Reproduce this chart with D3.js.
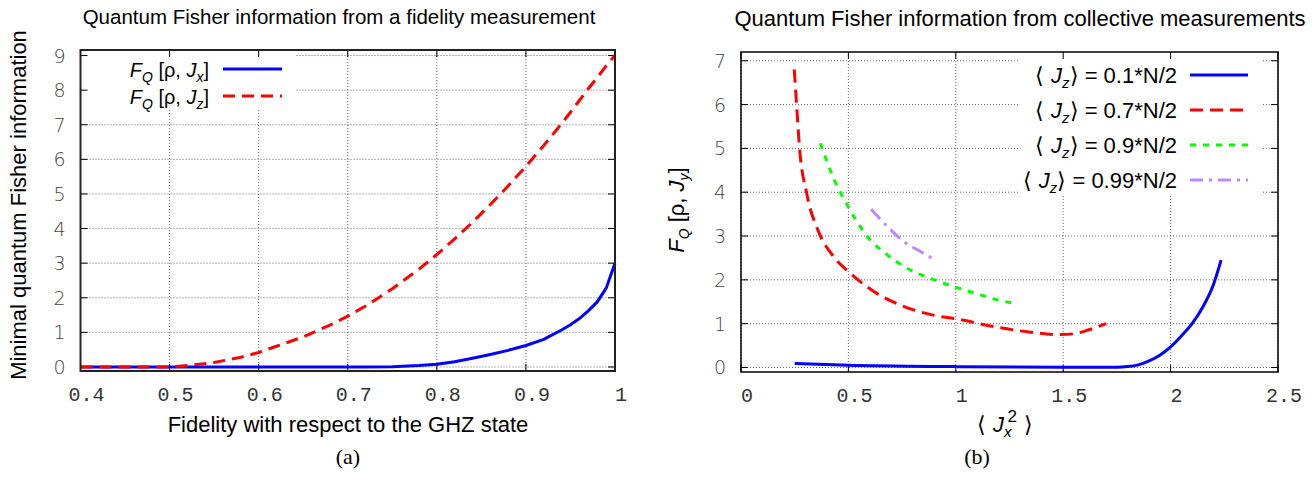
<!DOCTYPE html>
<html>
<head>
<meta charset="utf-8">
<script src="https://cdn.jsdelivr.net/npm/d3@7"></script>
<style>
  body { margin: 0; background: #fff; }
  svg text { font-family: "Liberation Sans", Arial, sans-serif; fill: #000; }
</style>
</head>
<body>
<svg id="chart" width="1316" height="490"></svg>
<script>
// ---- panel (a): fidelity measurement ----
const fidelity = [0.4, 0.45, 0.5, 0.52, 0.55, 0.58, 0.6, 0.62, 0.65, 0.68, 0.7, 0.72, 0.75, 0.78, 0.8, 0.82, 0.84, 0.86, 0.88, 0.9, 0.92, 0.94, 0.95, 0.96, 0.97, 0.98, 0.99, 1.0];
const fqJx = [0, 0, 0, 0, 0, 0, 0, 0, 0, 0, 0, 0.002, 0.005, 0.04, 0.08, 0.15, 0.25, 0.36, 0.48, 0.62, 0.8, 1.07, 1.22, 1.4, 1.62, 1.88, 2.27, 3.0];
const fqJz = [0, 0, 0, 0.04, 0.13, 0.28, 0.42, 0.6, 0.87, 1.21, 1.47, 1.76, 2.26, 2.83, 3.25, 3.7, 4.18, 4.69, 5.23, 5.8, 6.4, 7.03, 7.36, 7.7, 8.04, 8.36, 8.7, 9.0];
const ticksA_x = [0.4, 0.5, 0.6, 0.7, 0.8, 0.9, 1];
const ticksA_y = [0, 1, 2, 3, 4, 5, 6, 7, 8, 9];

// ---- panel (b): collective measurements ----
const jx2_01 = [0.25, 0.5, 1.0, 1.5, 1.75, 1.8, 1.85, 1.9, 1.95, 2.0, 2.05, 2.1, 2.15, 2.2, 2.235];
const fq_01 = [0.09, 0.05, 0.02, 0.005, 0.005, 0.02, 0.06, 0.15, 0.28, 0.47, 0.72, 1.0, 1.38, 1.9, 2.45];
const jx2_07 = [0.248, 0.26, 0.272, 0.306, 0.361, 0.431, 0.5, 0.62, 0.745, 0.9, 1.0, 1.18, 1.34, 1.48, 1.55, 1.62, 1.7];
const fq_07 = [6.8, 5.9, 5.04, 3.97, 3.1, 2.53, 2.19, 1.73, 1.42, 1.19, 1.11, 0.93, 0.81, 0.75, 0.77, 0.86, 1.0];
const jx2_09 = [0.369, 0.431, 0.498, 0.588, 0.681, 0.775, 0.9, 1.0, 1.1, 1.18, 1.277];
const fq_09 = [5.12, 4.32, 3.68, 2.99, 2.57, 2.26, 2.0, 1.83, 1.68, 1.56, 1.46];
const jx2_099 = [0.606, 0.681, 0.759, 0.838, 0.908];
const fq_099 = [3.61, 3.22, 2.87, 2.64, 2.44];
const ticksB_x = [0, 0.5, 1, 1.5, 2, 2.5];
const ticksB_y = [0, 1, 2, 3, 4, 5, 6, 7];

const svg = d3.select('#chart');

const zip = (xs, ys) => xs.map((v, i) => [v, ys[i]]);

function drawPanel(p) {
    const g = svg.append('g');
    const x = d3.scaleLinear().domain(p.xDomain).range([p.left, p.right]);
    const y = d3.scaleLinear().domain(p.yDomain).range([p.bottom, p.top]);

    // dotted grid
    g.append('g').selectAll('line').data(p.xTicks).enter().append('line')
        .attr('x1', d => x(d)).attr('x2', d => x(d))
        .attr('y1', p.top).attr('y2', p.bottom)
        .attr('stroke', '#666').attr('stroke-width', 1).attr('stroke-dasharray', '1,2');
    g.append('g').selectAll('line').data(p.yTicks).enter().append('line')
        .attr('x1', p.left).attr('x2', p.right)
        .attr('y1', d => y(d)).attr('y2', d => y(d))
        .attr('stroke', '#666').attr('stroke-width', 1).attr('stroke-dasharray', '1,2');

    // opaque key box hides the grid
    g.append('rect')
        .attr('x', p.key.x0).attr('y', p.top + 1)
        .attr('width', p.key.x1 - p.key.x0).attr('height', p.key.y1 - p.top - 1)
        .attr('fill', '#fff');

    // inward ticks on all four sides
    const tl = 7;
    const ticks = g.append('g').attr('stroke', '#000').attr('stroke-width', 1);
    p.xTicks.forEach(t => {
        ticks.append('line').attr('x1', x(t)).attr('x2', x(t)).attr('y1', p.bottom).attr('y2', p.bottom - tl);
        ticks.append('line').attr('x1', x(t)).attr('x2', x(t)).attr('y1', p.top).attr('y2', p.top + tl);
    });
    p.yTicks.forEach(t => {
        ticks.append('line').attr('x1', p.left).attr('x2', p.left + tl).attr('y1', y(t)).attr('y2', y(t));
        ticks.append('line').attr('x1', p.right).attr('x2', p.right - tl).attr('y1', y(t)).attr('y2', y(t));
    });

    // tick labels
    g.append('g').selectAll('text').data(p.xTicks).enter().append('text')
        .attr('x', d => x(d) + 6).attr('y', p.bottom + 30)
        .attr('text-anchor', 'middle')
        .style('font-family', '"Liberation Mono", "DejaVu Sans Mono", monospace')
        .style('font-size', '20px').style('fill', '#333')
        .text(d => d);
    g.append('g').selectAll('text').data(p.yTicks).enter().append('text')
        .attr('x', p.left - 15).attr('y', d => y(d) + 7)
        .attr('text-anchor', 'end')
        .style('font-family', '"DejaVu Sans", sans-serif').style('font-weight', 200)
        .style('font-size', '19px').style('fill', '#444')
        .text(d => d);

    // curves
    const line = d3.line().x(d => x(d[0])).y(d => y(d[1])).curve(p.curve);
    p.series.forEach(s => {
        g.append('path').datum(s.points)
            .attr('d', line)
            .attr('fill', 'none').attr('stroke', s.color).attr('stroke-width', 3)
            .attr('stroke-dasharray', s.dash);
    });

    // frame
    g.append('rect')
        .attr('x', p.left).attr('y', p.top)
        .attr('width', p.right - p.left).attr('height', p.bottom - p.top)
        .attr('fill', 'none').attr('stroke', p.frameColor).attr('stroke-width', p.frameWidth);

    // key entries
    p.series.forEach((s, i) => {
        const ky = p.key.y + i * p.key.dy;
        const t = g.append('text')
            .attr('x', p.key.textX).attr('y', ky + 8)
            .attr('text-anchor', 'end')
            .style('font-size', p.key.size);
        s.label(t);
        g.append('line')
            .attr('x1', p.key.lineX0).attr('x2', p.key.lineX1)
            .attr('y1', ky).attr('y2', ky)
            .attr('stroke', s.color).attr('stroke-width', 3)
            .attr('stroke-dasharray', s.dash);
    });

    // title
    g.append('text')
        .attr('x', p.titleX).attr('y', p.titleY)
        .attr('text-anchor', 'middle').style('font-size', p.titleSize)
        .text(p.title);
    return { x, y, g };
}

// label helpers
const fqLabel = sub => t => {
    t.append('tspan').style('font-style', 'italic').text('F');
    t.append('tspan').style('font-style', 'italic').style('font-size', '14px').attr('dy', 5).text('Q');
    t.append('tspan').attr('dy', -5).text(' [\u03c1, ');
    t.append('tspan').style('font-style', 'italic').text('J');
    t.append('tspan').style('font-style', 'italic').style('font-size', '14px').attr('dy', 5).text(sub);
    t.append('tspan').attr('dy', -5).text(']');
};
const jzLabel = val => t => {
    t.append('tspan').style('font-family', '"DejaVu Sans", sans-serif').style('font-weight', 200).text('\u27e8 ');
    t.append('tspan').style('font-style', 'italic').text('J');
    t.append('tspan').style('font-style', 'italic').style('font-size', '15px').attr('dy', 5).text('z');
    t.append('tspan').attr('dy', -5).style('font-family', '"DejaVu Sans", sans-serif').style('font-weight', 200).text('\u27e9');
    t.append('tspan').text(' = ' + val + '*N/2');
};

drawPanel({
    left: 80.5, right: 615, top: 50, bottom: 371,
    xDomain: [0.4, 1], yDomain: [-0.116, 9.16],
    xTicks: ticksA_x, yTicks: ticksA_y,
    curve: d3.curveLinear,
    frameColor: '#222', frameWidth: 2,
    key: { x0: 81, x1: 295, y1: 108, y: 69, dy: 27, textX: 209, lineX0: 223, lineX1: 282, size: '20px' },
    title: 'Quantum Fisher information from a fidelity measurement', titleX: 339, titleY: 24, titleSize: '20.5px',
    series: [
        { points: zip(fidelity, fqJx), color: '#0000ff', dash: null, label: fqLabel('x') },
        { points: zip(fidelity, fqJz), color: '#ff0000', dash: '12,7', label: fqLabel('z') }
    ]
});

drawPanel({
    left: 741, right: 1278, top: 52, bottom: 372,
    xDomain: [0, 2.5], yDomain: [-0.103, 7.2],
    xTicks: ticksB_x, yTicks: ticksB_y,
    curve: d3.curveMonotoneX,
    frameColor: '#000', frameWidth: 1.5,
    key: { x0: 1020, x1: 1262, y1: 195, y: 75, dy: 35, textX: 1177, lineX0: 1190, lineX1: 1248, size: '22px' },
    title: 'Quantum Fisher information from collective measurements', titleX: 1020, titleY: 26, titleSize: '22px',
    series: [
        { points: zip(jx2_01, fq_01), color: '#0000ff', dash: null, label: jzLabel('0.1') },
        { points: zip(jx2_07, fq_07), color: '#ff0000', dash: '13,7', label: jzLabel('0.7') },
        { points: zip(jx2_09, fq_09), color: '#00ff00', dash: '6,7', label: jzLabel('0.9') },
        { points: zip(jx2_099, fq_099), color: '#bb88ff', dash: '13,6,3,6', label: jzLabel('0.99') }
    ]
});

// axis labels
svg.append('text')
    .attr('transform', 'translate(26,205) rotate(-90)')
    .attr('text-anchor', 'middle').style('font-size', '22px')
    .text('Minimal quantum Fisher information');
svg.append('text')
    .attr('x', 348).attr('y', 432)
    .attr('text-anchor', 'middle').style('font-size', '22px')
    .text('Fidelity with respect to the GHZ state');

const yLab = svg.append('text')
    .attr('transform', 'translate(684,210) rotate(-90)')
    .attr('text-anchor', 'middle').style('font-size', '22px');
fqLabel('y')(yLab);

const xLab = svg.append('text')
    .attr('x', 1005).attr('y', 432)
    .attr('text-anchor', 'middle').style('font-size', '22px');
xLab.append('tspan').style('font-family', '"DejaVu Sans", sans-serif').style('font-weight', 200).text('\u27e8 ');
xLab.append('tspan').style('font-style', 'italic').text('J');
xLab.append('tspan').style('font-style', 'italic').style('font-size', '15px').attr('dy', 5).text('x');
xLab.append('tspan').style('font-size', '17px').attr('dx', -4).attr('dy', -15).text('2');
xLab.append('tspan').attr('dy', 10).style('font-family', '"DejaVu Sans", sans-serif').style('font-weight', 200).text(' \u27e9');

// sub-figure captions
[['(a)', 348], ['(b)', 977]].forEach(([txt, cx]) => {
    svg.append('text')
        .attr('x', cx).attr('y', 464)
        .attr('text-anchor', 'middle')
        .style('font-family', '"Liberation Serif", "DejaVu Serif", serif').style('font-size', '22px')
        .text(txt);
});
</script>
</body>
</html>
